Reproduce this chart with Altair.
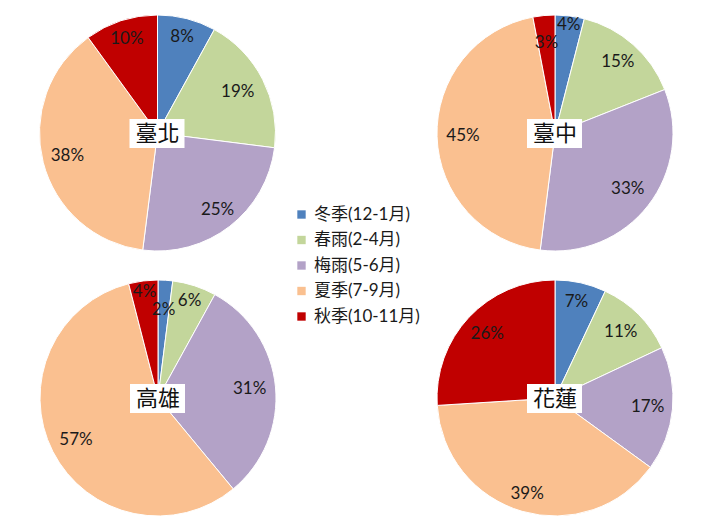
import altair as alt
import pandas as pd
import math

cities = ["臺北", "臺中", "高雄", "花蓮"]
seasons = ["冬季(12-1月)", "春雨(2-4月)", "梅雨(5-6月)", "夏季(7-9月)", "秋季(10-11月)"]
colors = ["#4F81BD", "#C3D69B", "#B3A2C7", "#FAC090", "#C00000"]

taipei = [8, 19, 25, 38, 10]
taichung = [4, 15, 33, 45, 3]
kaohsiung = [2, 6, 31, 57, 4]
hualien = [7, 11, 17, 39, 26]
values = [taipei, taichung, kaohsiung, hualien]

# ---- layout (not data) ----
centres = [(149.5, 125), (547, 125), (150, 390), (547, 390)]
R = 118
# label distance from centre for each slice (px), per city
label_radius = [
    [99, 90, 98, 93, 99],
    [109, 95, 92, 92, 90],
    [88, 102, 92, 92, 107],
    [98, 93, 93, 100, 93],
]

rows = []
for c, vals, rads in zip(cities, values, label_radius):
    for i, (s, v) in enumerate(zip(seasons, vals)):
        rows.append({"city": c, "season": s, "idx": i, "value": v,
                     "label": f"{v}%", "lr": rads[i]})
df = pd.DataFrame(rows)
names = pd.DataFrame({"city": cities})

LATIN = "Lato, 'Noto Sans CJK TC', sans-serif"
CJK = "'Noto Sans CJK TC', sans-serif"

legend = alt.Legend(
    title=None, orient="none", legendX=285, legendY=198,
    symbolType="square", symbolSize=70, symbolStrokeWidth=0,
    labelFont=LATIN, labelFontSize=17, labelColor="#1a1a1a",
    rowPadding=7.5, padding=0, labelLimit=300, symbolOffset=0,
)
color = alt.Color("season:N", scale=alt.Scale(domain=seasons, range=colors), legend=legend)
tscale = alt.Scale(domain=[0, 100], range=[0, 2 * math.pi])

layers = []
for c, (cx, cy) in zip(cities, centres):
    base = (
        alt.Chart(df)
        .transform_filter(alt.datum.city == c)
        .transform_window(end="sum(value)", sort=[alt.SortField("idx")], frame=[None, 0])
        .transform_calculate(start="datum.end - datum.value",
                             mid="datum.end - datum.value / 2")
    )
    arc = base.mark_arc(outerRadius=R, stroke="white", strokeWidth=1).encode(
        theta=alt.Theta("start:Q", scale=tscale),
        theta2="end:Q",
        color=color,
        x=alt.value(cx), y=alt.value(cy),
    )
    txt = base.mark_text(fontSize=17, font=LATIN, color="#1a1a1a").encode(
        theta=alt.Theta("mid:Q", scale=tscale),
        radius=alt.Radius("lr:Q", scale=None),
        text="label:N",
        x=alt.value(cx), y=alt.value(cy),
    )
    nb = alt.Chart(names).transform_filter(alt.datum.city == c)
    box = nb.mark_rect(color="white").encode(
        x=alt.value(cx - 28), x2=alt.value(cx + 27),
        y=alt.value(cy - 14), y2=alt.value(cy + 15),
    )
    name = nb.mark_text(fontSize=22, font=CJK, color="#111111").encode(
        text="city:N", x=alt.value(cx), y=alt.value(cy + 1),
    )
    layers += [arc, txt, box, name]

chart = alt.layer(*layers).properties(
    width=704, height=513, autosize="none", padding=0
).configure_view(stroke=None)

chart.save("out.html", embed_options={"renderer": "svg", "actions": False})
